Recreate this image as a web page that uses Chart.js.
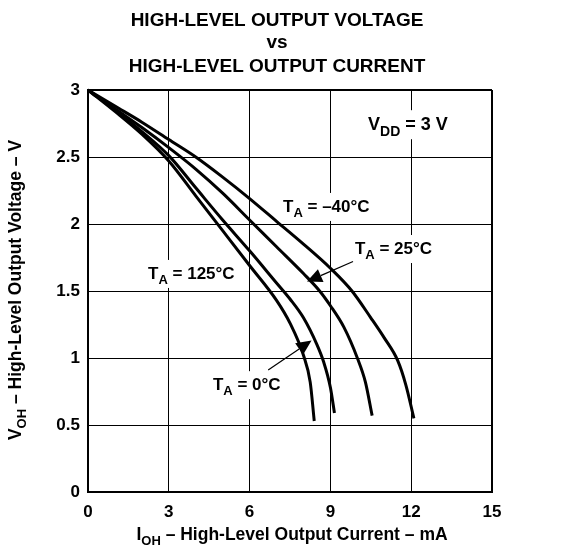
<!DOCTYPE html>
<html lang="en">
<head>
<meta charset="UTF-8">
<title>High-Level Output Voltage vs High-Level Output Current</title>
<script src="https://cdn.jsdelivr.net/npm/chart.js@4.4.1/dist/chart.umd.min.js"></script>
<style>
    html, body { margin: 0; padding: 0; background: #fff; }
    #wrap { width: 563px; height: 559px; }
</style>
</head>
<body>
<div id="wrap"><canvas id="chart" width="563" height="559"></canvas></div>
<script>
// I_OH (mA) / V_OH (V)
var ioh_m40 = [0, 1, 2, 3, 4, 5, 6, 7, 8, 9, 9.8, 10.5, 11, 11.5, 11.8, 12.1];
var voh_m40 = [3, 2.88, 2.76, 2.63, 2.5, 2.35, 2.19, 2.02, 1.85, 1.67, 1.5, 1.3, 1.15, 0.98, 0.8, 0.55];

var ioh_25 = [0, 1, 2, 3, 4, 5, 6, 7, 8, 8.6, 9, 9.5, 10, 10.3, 10.55];
var voh_25 = [3, 2.86, 2.72, 2.57, 2.41, 2.23, 2.03, 1.83, 1.63, 1.5, 1.39, 1.23, 1.0, 0.82, 0.57];

var ioh_0 = [0, 1, 2, 3, 4, 5, 6, 7, 7.5, 8, 8.5, 8.75, 9, 9.15];
var voh_0 = [3, 2.85, 2.69, 2.51, 2.27, 2.03, 1.8, 1.56, 1.44, 1.3, 1.1, 0.97, 0.78, 0.59];

var ioh_125 = [0, 1, 2, 3, 4, 5, 6, 7, 7.5, 8, 8.25, 8.4];
var voh_125 = [3, 2.84, 2.67, 2.47, 2.21, 1.95, 1.69, 1.43, 1.26, 1.02, 0.82, 0.53];

var xMin = 0, xMax = 15, xStep = 3;
var yMin = 0, yMax = 3, yStep = 0.5;

var titleLines = ['HIGH-LEVEL OUTPUT VOLTAGE', 'vs', 'HIGH-LEVEL OUTPUT CURRENT'];

var FONT = '"Liberation Sans", Arial, Helvetica, sans-serif';

function pts(xs, ys) {
    return xs.map(function (x, i) { return { x: x, y: ys[i] }; });
}

function curve(xs, ys) {
    return {
        data: pts(xs, ys),
        borderColor: '#000',
        borderWidth: 3,
        pointRadius: 0,
        fill: false,
        cubicInterpolationMode: 'monotone',
        clip: false
    };
}

// text with subscripts: parts = [[text, isSub], ...]
function richWidth(ctx, parts, size) {
    var sub = Math.round(size * 0.76), w = 0;
    parts.forEach(function (p) {
        ctx.font = 'bold ' + (p[1] ? sub : size) + 'px ' + FONT;
        w += ctx.measureText(p[0]).width;
    });
    return w;
}

function drawRich(ctx, parts, x, y, size, align) {
    var sub = Math.round(size * 0.76);
    var w = richWidth(ctx, parts, size);
    var cx = align === 'center' ? x - w / 2 : x;
    parts.forEach(function (p) {
        ctx.font = 'bold ' + (p[1] ? sub : size) + 'px ' + FONT;
        ctx.fillText(p[0], cx, y + (p[1] ? size * 0.3 : 0));
        cx += ctx.measureText(p[0]).width;
    });
}

function drawArrow(ctx, x1, y1, x2, y2) {
    var a = Math.atan2(y2 - y1, x2 - x1);
    var len = 15, half = 7;
    ctx.lineWidth = 1.2;
    ctx.beginPath();
    ctx.moveTo(x1, y1);
    ctx.lineTo(x2 - Math.cos(a) * len, y2 - Math.sin(a) * len);
    ctx.stroke();
    ctx.beginPath();
    ctx.moveTo(x2, y2);
    ctx.lineTo(x2 - Math.cos(a) * len - Math.sin(a) * half, y2 - Math.sin(a) * len + Math.cos(a) * half);
    ctx.lineTo(x2 - Math.cos(a) * len + Math.sin(a) * half, y2 - Math.sin(a) * len - Math.cos(a) * half);
    ctx.closePath();
    ctx.fill();
}

// curve labels, anchored in data units (left edge, baseline)
var labels = [
    { x: 10.4, y: 2.7, size: 18, parts: [['V', false], ['DD', true], [' = 3 V', false]] },
    { x: 7.24, y: 2.09, size: 17, parts: [['T', false], ['A', true], [' = \u201340\u00b0C', false]] },
    { x: 9.91, y: 1.776, size: 17, parts: [['T', false], ['A', true], [' = 25\u00b0C', false]] },
    { x: 2.23, y: 1.59, size: 17, parts: [['T', false], ['A', true], [' = 125\u00b0C', false]] },
    { x: 4.64, y: 0.76, size: 17, parts: [['T', false], ['A', true], [' = 0\u00b0C', false]] }
];
var arrows = [
    { from: [9.84, 1.72], to: [8.13, 1.57] },
    { from: [6.69, 0.91], to: [8.3, 1.13] }
];

var notes = {
    id: 'notes',
    beforeDatasetsDraw: function (chart) {
        var ctx = chart.ctx, sx = chart.scales.x, sy = chart.scales.y;
        ctx.save();
        ctx.fillStyle = '#fff';
        labels.forEach(function (l) {
            var px = sx.getPixelForValue(l.x), py = sy.getPixelForValue(l.y);
            var w = richWidth(ctx, l.parts, l.size);
            ctx.fillRect(px - 3, py - l.size - 2, w + 6, l.size + 11);
        });
        ctx.restore();
    },
    afterDraw: function (chart) {
        var ctx = chart.ctx, sx = chart.scales.x, sy = chart.scales.y;
        ctx.save();
        ctx.fillStyle = '#000';
        ctx.strokeStyle = '#000';
        ctx.textBaseline = 'alphabetic';

        // title
        ctx.font = 'bold 19px ' + FONT;
        ctx.textAlign = 'center';
        ctx.fillText(titleLines[0], 277, 26);
        ctx.fillText(titleLines[1], 277, 48);
        ctx.fillText(titleLines[2], 277, 72);
        ctx.textAlign = 'left';

        // axis titles
        drawRich(ctx, [['I', false], ['OH', true], [' \u2013 High-Level Output Current \u2013 mA', false]],
            292, 540, 17.5, 'center');
        ctx.save();
        ctx.translate(21, 290);
        ctx.rotate(-Math.PI / 2);
        drawRich(ctx, [['V', false], ['OH', true], [' \u2013 High-Level Output Voltage \u2013 V', false]],
            0, 0, 17.5, 'center');
        ctx.restore();

        labels.forEach(function (l) {
            drawRich(ctx, l.parts, sx.getPixelForValue(l.x), sy.getPixelForValue(l.y), l.size, 'left');
        });
        arrows.forEach(function (a) {
            drawArrow(ctx, sx.getPixelForValue(a.from[0]), sy.getPixelForValue(a.from[1]),
                sx.getPixelForValue(a.to[0]), sy.getPixelForValue(a.to[1]));
        });

        ctx.restore();
    }
};

var ctx = document.getElementById('chart').getContext('2d');
var theChart = new Chart(ctx, {
    type: 'line',
    data: {
        datasets: [
            curve(ioh_m40, voh_m40),
            curve(ioh_25, voh_25),
            curve(ioh_0, voh_0),
            curve(ioh_125, voh_125)
        ]
    },
    options: {
        responsive: false,
        animation: false,
        layout: { padding: { top: 90, right: 71, left: 0, bottom: 0 } },
        plugins: {
            legend: { display: false },
            tooltip: { enabled: false },
            title: { display: false }
        },
        scales: {
            x: {
                type: 'linear',
                min: xMin,
                max: xMax,
                ticks: { stepSize: xStep, color: '#000', padding: 10, font: { family: FONT, size: 17, weight: 'bold' }, maxRotation: 0 },
                grid: {
                    color: '#000',
                    lineWidth: function (c) { return c.tick && c.tick.value === xMax ? 2 : 1; },
                    drawTicks: false
                },
                border: { display: true, color: '#000', width: 2 },
                afterFit: function (s) { s.height = 67; }
            },
            y: {
                type: 'linear',
                min: yMin,
                max: yMax,
                ticks: {
                    stepSize: yStep, color: '#000', padding: 8,
                    font: { family: FONT, size: 17, weight: 'bold' },
                    callback: function (v) { return String(v); }
                },
                grid: {
                    color: '#000',
                    lineWidth: function (c) { return c.tick && c.tick.value === yMax ? 2 : 1; },
                    drawTicks: false
                },
                border: { display: true, color: '#000', width: 2 },
                afterFit: function (s) { s.width = 88; }
            }
        }
    },
    plugins: [notes]
});
</script>
</body>
</html>
